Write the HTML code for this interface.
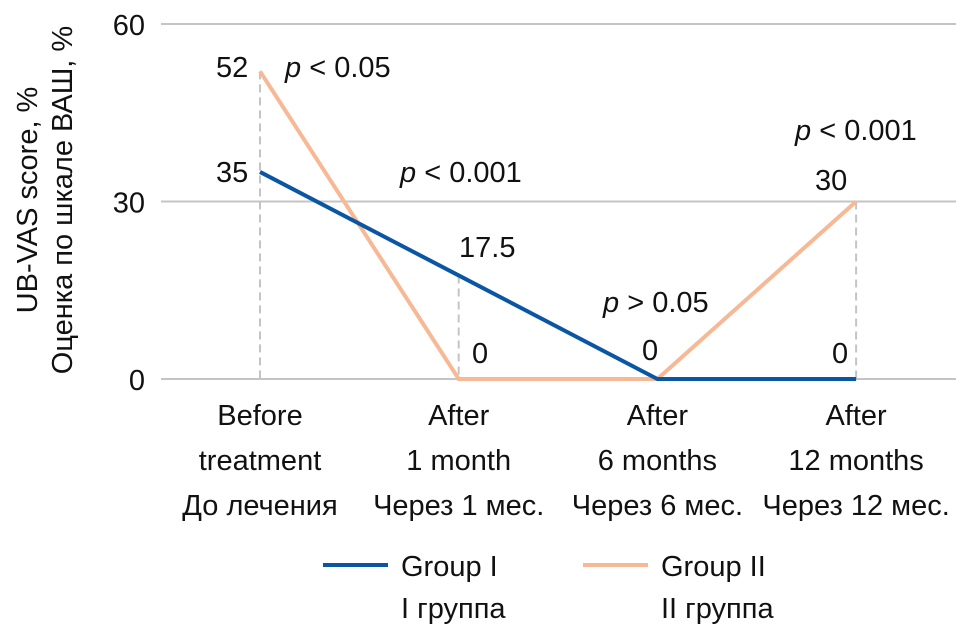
<!DOCTYPE html>
<html><head><meta charset="utf-8"><style>
body{margin:0;background:#fff;}
svg text{font-family:"Liberation Sans Narrow","Liberation Sans",sans-serif;fill:#111;font-size:29px;}
</style></head><body>
<svg id="chart" width="956" height="629" xmlns="http://www.w3.org/2000/svg"></svg>
<script>
const categoriesEn = [["Before","treatment"],["After","1 month"],["After","6 months"],["After","12 months"]];
const categoriesRu = ["До лечения","Через 1 мес.","Через 6 мес.","Через 12 мес."];
const group1 = [35, 17.5, 0, 0];
const group2 = [52, 0, 0, 30];
const yTicks = [0, 30, 60];
const pLabels = ["< 0.05","< 0.001","> 0.05","< 0.001"];
const NS="http://www.w3.org/2000/svg";
const svg=document.getElementById('chart');
const xs=i=>260+i*198.7;
const ys=v=>379-v*(355/60);
function el(t,a,txt){const e=document.createElementNS(NS,t);for(const k in a)e.setAttribute(k,a[k]);if(txt!==undefined)e.textContent=txt;svg.appendChild(e);return e;}
yTicks.forEach(v=>{
  const g=el('line',{x1:161,x2:956,y1:ys(v),y2:ys(v),stroke:'#c4c4c4','stroke-width':2});
  
  
  const t=el('text',{x:145,y:ys(v)+11,'text-anchor':'end'},String(v));
  
  
});
// dashed drop lines
[[0,group2[0]],[1,group1[1]],[3,group2[3]]].forEach(([i,v])=>{
  const d=el('line',{x1:xs(i),x2:xs(i),y1:ys(v),y2:ys(0),stroke:'#c4c4c4','stroke-width':2,'stroke-dasharray':'8,5'});
  
  
});
function series(data,color,name){
  const p=el('polyline',{points:data.map((v,i)=>xs(i)+','+ys(v)).join(' '),fill:'none',stroke:color,'stroke-width':4});
  
  
}
series(group2,'#f7b995','group-2-line');
series(group1,'#0b56a4','group-1-line');
function lab(x,y,s,name){const t=el('text',{x:x,y:y},s);}
lab(216,77,String(group2[0]),'label-g2-before');
lab(216,182,String(group1[0]),'label-g1-before');
lab(459,257,String(group1[1]),'label-g1-1m');
lab(472,363,String(group2[1]),'label-g2-1m');
lab(642,360,String(group1[2]),'label-g1-6m');
lab(832,363,String(group1[3]),'label-g1-12m');
lab(815,190,String(group2[3]),'label-g2-12m');
const pPos=[[285,77],[400,182],[603,312],[795,140]];
pLabels.forEach((s,i)=>{
  const t=el('text',{x:pPos[i][0],y:pPos[i][1]});
  
  
  const a=document.createElementNS(NS,'tspan');a.setAttribute('font-style','italic');a.textContent='p';t.appendChild(a);
  const b=document.createElementNS(NS,'tspan');b.textContent=' '+s;t.appendChild(b);
});
categoriesEn.forEach((c,i)=>{
  [c[0],c[1],categoriesRu[i]].forEach((s,j)=>{
    const t=el('text',{x:xs(i),y:425+j*45,'text-anchor':'middle'},s);
    
    
  });
});
const yt1=el('text',{transform:'translate(37,200) rotate(-90)','text-anchor':'middle'},'UB-VAS score, %');


const yt2=el('text',{transform:'translate(72,200) rotate(-90)','text-anchor':'middle'},'Оценка по шкале ВАШ, %');


[[323,'#0b56a4','Group I','I группа'],[583,'#f7b995','Group II','II группа']].forEach((l,k)=>{
  const ln=el('line',{x1:l[0],x2:l[0]+65,y1:565,y2:565,stroke:l[1],'stroke-width':4});
  
  
  const t1=el('text',{x:l[0]+78,y:576},l[2]);
  
  
  const t2=el('text',{x:l[0]+78,y:618},l[3]);
  
  
});
</script>
</body></html>
